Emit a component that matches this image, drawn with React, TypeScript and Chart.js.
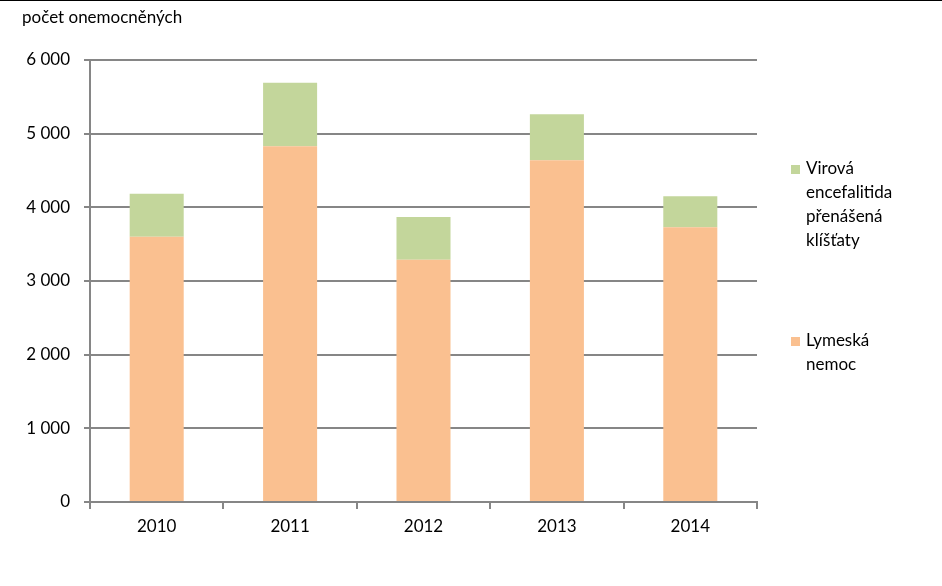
import React, { useEffect, useRef } from "react";
import { Chart, registerables } from "chart.js";

Chart.register(...registerables);

const years = ["2010", "2011", "2012", "2013", "2014"];
const lyme = [3600, 4830, 3290, 4640, 3730];
const tbe = [585, 860, 580, 625, 420];
const tbeLabel = ["Virová", "encefalitida", "přenášená", "klíšťaty"];
const lymeLabel = ["Lymeská", "nemoc"];
const yTitle = "počet onemocněných";

const FONT = "Lato, 'Open Sans', sans-serif";
const GREEN = "#C3D69B";
const ORANGE = "#FAC090";
const GRID = "#868686";

export default function App() {
  const ref = useRef<HTMLCanvasElement | null>(null);
  useEffect(() => {
    document.body.style.margin = "0";
    const chart = new Chart(ref.current!, {
      type: "bar",
      data: {
        labels: years,
        datasets: [
          { label: "Lymeská nemoc", data: lyme, backgroundColor: ORANGE, barPercentage: 0.405, categoryPercentage: 1 },
          { label: "Virová encefalitida přenášená klíšťaty", data: tbe, backgroundColor: GREEN, barPercentage: 0.405, categoryPercentage: 1 },
        ],
      },
      options: {
        animation: false,
        responsive: false,
        layout: { padding: { top: 60, right: 185, left: 0, bottom: 0 } },
        plugins: { legend: { display: false }, tooltip: { enabled: false } },
        scales: {
          x: {
            stacked: true,
            grid: { drawOnChartArea: false, color: GRID, lineWidth: 2, tickLength: 7, offset: true },
            border: { color: GRID, width: 2 },
            ticks: { color: "#000", font: { family: FONT, size: 17 }, padding: 7 },
            afterFit: (s: any) => { s.height = 84; },
          },
          y: {
            stacked: true,
            min: 0,
            max: 6000,
            grid: { color: GRID, lineWidth: 2, tickLength: 6 },
            border: { color: GRID, width: 2 },
            ticks: {
              stepSize: 1000,
              color: "#000",
              font: { family: FONT, size: 17 },
              padding: 14,
              callback: (v: any) => Number(v).toLocaleString("en-US").replace(/,/g, " "),
            },
            afterFit: (s: any) => { s.width = 90; },
          },
        },
      },
    });
    return () => chart.destroy();
  }, []);

  const text: React.CSSProperties = { fontFamily: FONT, fontSize: 17, color: "#000", lineHeight: "24px" };
  const box: React.CSSProperties = { position: "absolute", left: 791, width: 9, height: 9 };
  return (
    <div style={{ position: "fixed", left: 0, top: 0, width: 942, height: 586, background: "#fff", borderTop: "1px solid #000", boxSizing: "border-box" }}>
      <canvas ref={ref} width={942} height={586} style={{ position: "absolute", left: 0, top: -1, width: 942, height: 586 }} />
      <div style={{ ...text, position: "absolute", left: 22, top: 4 }}>{yTitle}</div>
      <div style={{ ...box, top: 164, background: GREEN }} />
      <div style={{ ...text, position: "absolute", left: 806, top: 155 }}>
        {tbeLabel.map((t, i) => <div key={i}>{t}</div>)}
      </div>
      <div style={{ ...box, top: 336, background: ORANGE }} />
      <div style={{ ...text, position: "absolute", left: 806, top: 327 }}>
        {lymeLabel.map((t, i) => <div key={i}>{t}</div>)}
      </div>
    </div>
  );
}
